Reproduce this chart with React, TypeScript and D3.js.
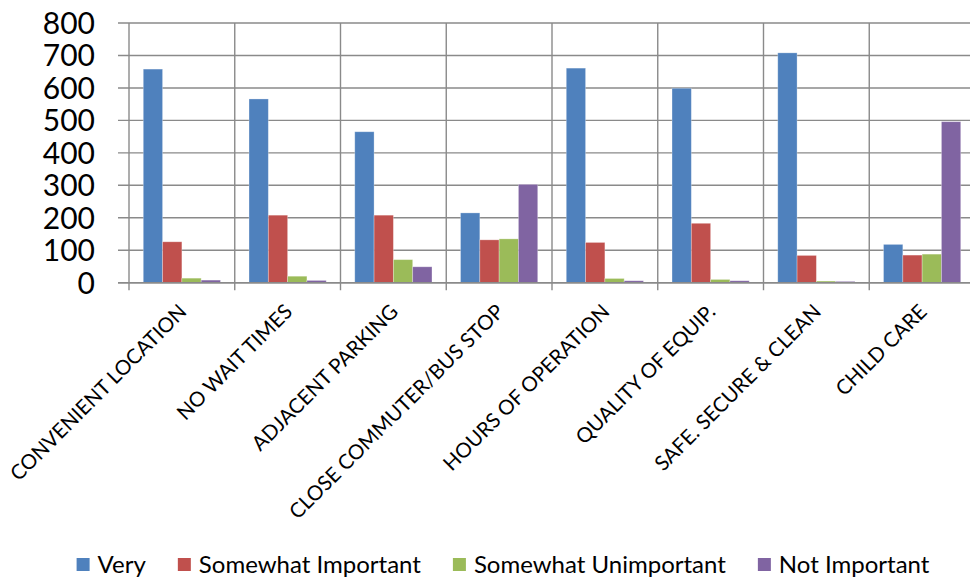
import React, { useEffect, useRef } from "react";
import * as d3 from "d3";

const categories = [
  "CONVENIENT LOCATION",
  "NO WAIT TIMES",
  "ADJACENT PARKING",
  "CLOSE COMMUTER/BUS STOP",
  "HOURS OF OPERATION",
  "QUALITY OF EQUIP.",
  "SAFE. SECURE & CLEAN",
  "CHILD CARE",
];
const seriesNames = ["Very", "Somewhat Important", "Somewhat Unimportant", "Not Important"];
const very = [658, 566, 465, 215, 661, 599, 708, 118];
const somewhatImportant = [126, 208, 208, 132, 124, 183, 84, 85];
const somewhatUnimportant = [14, 20, 71, 135, 13, 10, 5, 88];
const notImportant = [8, 7, 49, 303, 6, 6, 4, 496];
const seriesValues = [very, somewhatImportant, somewhatUnimportant, notImportant];
const colors = ["#4F81BD", "#C0504D", "#9BBB59", "#8064A2"];
const yTicks = [0, 100, 200, 300, 400, 500, 600, 700, 800];

const W = 970;
const H = 579;

export default function App() {
  const ref = useRef<SVGSVGElement | null>(null);

  useEffect(() => {
    const svg = d3.select(ref.current);
    svg.selectAll("*").remove();

    const left = 129;
    const right = 975;
    const top = 23;
    const bottom = 282.7;
    const gridColor = "#8a8a8a";
    const font = "Lato, 'Open Sans', sans-serif";

    const x = d3.scaleBand<string>().domain(categories).range([left, right]).padding(0);
    const bw = x.bandwidth();
    const x1 = d3
      .scaleBand<string>()
      .domain(seriesNames)
      .range([bw * 0.135, bw * 0.865])
      .padding(0);
    const y = d3.scaleLinear().domain([0, 800]).range([bottom, top]);

    const g = svg.append("g");

    g.selectAll("line.h")
      .data(yTicks)
      .enter()
      .append("line")
      .attr("x1", left - 11)
      .attr("x2", W)
      .attr("y1", (d) => y(d))
      .attr("y2", (d) => y(d))
      .attr("stroke", gridColor)
      .attr("stroke-width", 1.4);

    const bounds = categories.map((c) => x(c) as number);
    g.selectAll("line.v")
      .data(bounds)
      .enter()
      .append("line")
      .attr("x1", (d) => d)
      .attr("x2", (d) => d)
      .attr("y1", top)
      .attr("y2", bottom + 7.5)
      .attr("stroke", gridColor)
      .attr("stroke-width", 1.4);

    g.selectAll("text.yt")
      .data(yTicks)
      .enter()
      .append("text")
      .attr("x", 95)
      .attr("y", (d) => y(d) + 11)
      .attr("text-anchor", "end")
      .attr("font-family", font)
      .attr("font-size", 30)
      .attr("fill", "#000")
      .text((d) => String(d));

    seriesValues.forEach((vals, si) => {
      g.selectAll(`rect.s${si}`)
        .data(vals)
        .enter()
        .append("rect")
        .attr("x", (_d, i) => (x(categories[i]) as number) + (x1(seriesNames[si]) as number))
        .attr("width", x1.bandwidth())
        .attr("y", (d) => y(d))
        .attr("height", (d) => y(0) - y(d))
        .attr("fill", colors[si])
        .attr("stroke", "rgba(255,255,255,0.35)")
        .attr("stroke-width", 0.8);
    });

    g.append("line")
      .attr("x1", left - 11)
      .attr("x2", W)
      .attr("y1", y(0))
      .attr("y2", y(0))
      .attr("stroke", gridColor)
      .attr("stroke-width", 1.6);

    g.selectAll("text.xl")
      .data(categories)
      .enter()
      .append("text")
      .attr("transform", (d) => {
        const cx = (x(d) as number) + bw / 2 + 6;
        return `translate(${cx},${313}) rotate(-45)`;
      })
      .attr("text-anchor", "end")
      .attr("font-family", font)
      .attr("font-size", 20.5)
      .attr("fill", "#000")
      .text((d) => d);

    const legend = svg.append("g");
    const items = legend
      .selectAll("g.li")
      .data(seriesNames)
      .enter()
      .append("g");
    items
      .append("rect")
      .attr("width", 13)
      .attr("height", 13)
      .attr("y", 558)
      .attr("fill", (_d, i) => colors[i]);
    const texts = items
      .append("text")
      .attr("x", 21)
      .attr("y", 573)
      .attr("font-family", font)
      .attr("font-size", 24)
      .attr("fill", "#000")
      .text((d) => d);
    const widths: number[] = [];
    texts.each(function () {
      widths.push((this as SVGTextElement).getComputedTextLength());
    });
    const gap = 32;
    const total = widths.reduce((a, w) => a + 21 + w, 0) + gap * (widths.length - 1);
    let cur = 503 - total / 2;
    items.attr("transform", (_d, i) => {
      const t = `translate(${cur},0)`;
      cur += 21 + widths[i] + gap;
      return t;
    });
  }, []);

  return (
    <svg
      ref={ref}
      width={W}
      height={H}
      style={{ position: "absolute", left: 0, top: 0, background: "#fff", display: "block" }}
    />
  );
}
